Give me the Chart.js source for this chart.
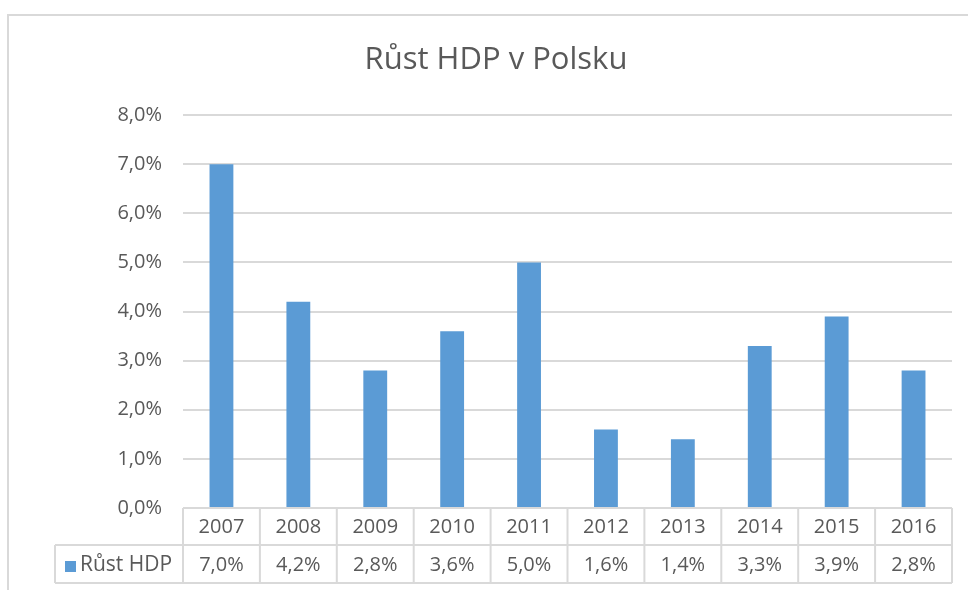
<!DOCTYPE html>
<html>
<head>
<meta charset="utf-8">
<script src="https://cdn.jsdelivr.net/npm/chart.js@4/dist/chart.umd.min.js"></script>
<style>
  html, body { margin: 0; padding: 0; background: #fff; }
  canvas { display: block; }
</style>
</head>
<body>
<canvas id="gdp" width="968" height="590"></canvas>
<script>
// data
const years = ['2007', '2008', '2009', '2010', '2011', '2012', '2013', '2014', '2015', '2016'];
const growth = [7.0, 4.2, 2.8, 3.6, 5.0, 1.6, 1.4, 3.3, 3.9, 2.8];
const seriesName = 'Růst HDP';
const chartTitle = 'Růst HDP v Polsku';

const FONT = '"Open Sans", sans-serif';
const TEXT = '#595959';
const LINE = '#d9d9d9';
const BLUE = '#5b9bd5';

const fmt = v => v.toFixed(1).replace('.', ',') + '%';

// title, frame and the data table under the plot
const tablePlugin = {
  id: 'tablePlugin',
  afterDraw(chart) {
    const ctx = chart.ctx;
    const area = chart.chartArea;
    const xs = chart.scales.x;
    const n = years.length;
    const cw = (area.right - area.left) / n;
    const top = area.bottom, mid = top + 37, bot = top + 75;
    const labelLeft = 55;

    ctx.save();
    // outer frame (top and left edges only are visible)
    ctx.strokeStyle = LINE;
    ctx.lineWidth = 2;
    ctx.beginPath();
    ctx.moveTo(8, 590); ctx.lineTo(8, 15); ctx.lineTo(968, 15);
    ctx.stroke();

    // title
    ctx.fillStyle = TEXT;
    ctx.font = '31px ' + FONT;
    ctx.textAlign = 'center';
    ctx.textBaseline = 'middle';
    ctx.fillText(chartTitle, 496, 60);

    // table grid
    ctx.lineWidth = 2;
    ctx.strokeStyle = LINE;
    ctx.beginPath();
    ctx.moveTo(area.left, top); ctx.lineTo(area.right, top);
    ctx.moveTo(labelLeft, mid); ctx.lineTo(area.right, mid);
    ctx.moveTo(labelLeft, bot); ctx.lineTo(area.right, bot);
    ctx.moveTo(labelLeft, mid); ctx.lineTo(labelLeft, bot);
    for (let i = 0; i <= n; i++) {
      const x = area.left + i * cw;
      ctx.moveTo(x, top); ctx.lineTo(x, bot);
    }
    ctx.stroke();

    // cells
    ctx.font = '20px ' + FONT;
    ctx.fillStyle = TEXT;
    for (let i = 0; i < n; i++) {
      const cx = xs.getPixelForValue(i);
      ctx.fillText(years[i], cx, (top + mid) / 2 + 1);
      ctx.fillText(fmt(growth[i]), cx, (mid + bot) / 2 + 1);
    }

    // series label with legend key
    ctx.fillStyle = BLUE;
    ctx.fillRect(65, 561, 11, 11);
    ctx.fillStyle = TEXT;
    ctx.textAlign = 'left';
    ctx.font = '21px ' + FONT;
    ctx.fillText(seriesName, 80, (mid + bot) / 2 + 1);
    ctx.restore();
  }
};

new Chart(document.getElementById('gdp'), {
  type: 'bar',
  data: {
    labels: years,
    datasets: [{
      label: seriesName,
      data: growth,
      backgroundColor: BLUE,
      categoryPercentage: 1,
      barPercentage: 0.31
    }]
  },
  options: {
    responsive: false,
    animation: false,
    layout: { padding: { left: 0, top: 115, right: 16, bottom: 82 } },
    plugins: {
      legend: { display: false },
      title: { display: false },
      tooltip: { enabled: false }
    },
    scales: {
      x: { display: false },
      y: {
        min: 0,
        max: 8,
        afterFit(scale) { scale.width = 183; },
        border: { display: false },
        grid: { color: LINE, lineWidth: 2, drawTicks: false },
        ticks: {
          stepSize: 1,
          padding: 21,
          color: TEXT,
          font: { family: FONT, size: 20 },
          callback: v => fmt(v)
        }
      }
    }
  },
  plugins: [tablePlugin]
});
</script>
</body>
</html>
